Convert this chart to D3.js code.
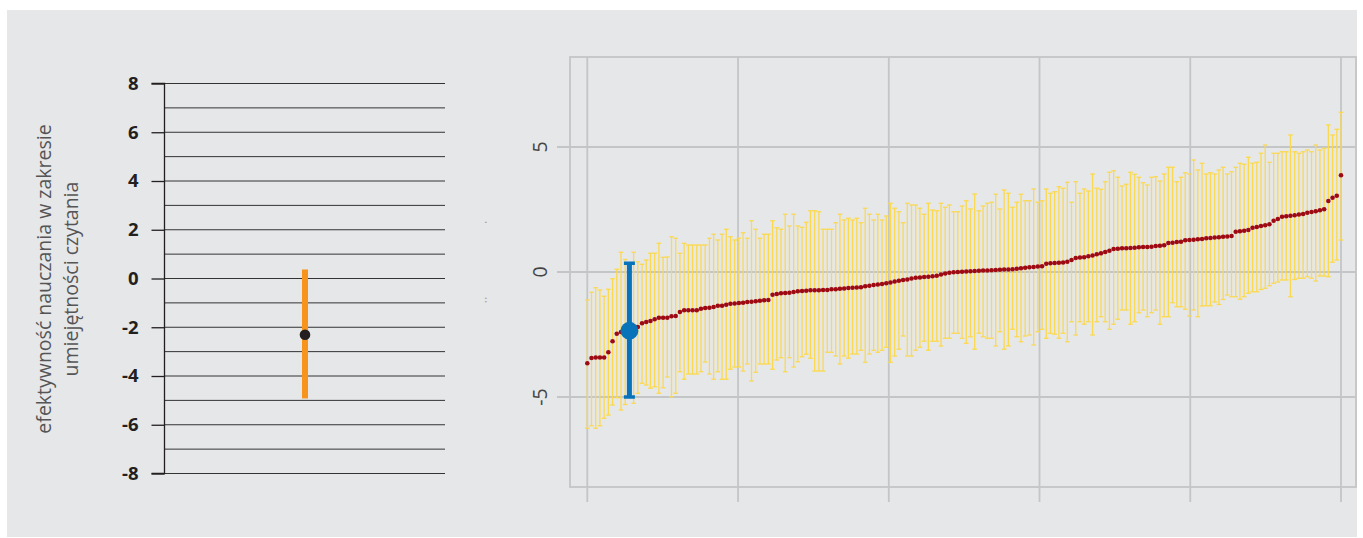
<!DOCTYPE html>
<html><head><meta charset="utf-8">
<script src="https://cdnjs.cloudflare.com/ajax/libs/d3/7.8.5/d3.min.js"></script>
<style>body{margin:0;background:#fff} svg{display:block}</style>
</head><body><svg id="c" width="1363" height="538"></svg>
<script>
// ---------- DATA ----------
// left panel: single school estimate
const schoolCategory = ["szkoła"];
const schoolMean = [-2.31];
const schoolLow = [-4.92];
const schoolHigh = [0.37];
const leftTickValues = [8, 6, 4, 2, 0, -2, -4, -6, -8];
const leftGridValues = [8, 7, 6, 5, 4, 3, 2, 1, 0, -1, -2, -3, -4, -5, -6, -7, -8];
const leftTitle = ["efektywność nauczania w zakresie", "umiejętności czytania"];

// right panel: all schools, sorted
const schoolMeans = [
-3.65,-3.44,-3.42,-3.42,-3.42,-3.21,-2.77,-2.47,-2.40,-2.37,
-2.35,-2.28,-2.20,-2.05,-2.00,-1.96,-1.89,-1.83,-1.83,-1.83,
-1.77,-1.76,-1.60,-1.53,-1.53,-1.53,-1.53,-1.47,-1.44,-1.43,
-1.40,-1.35,-1.35,-1.31,-1.27,-1.26,-1.24,-1.23,-1.20,-1.19,
-1.17,-1.15,-1.13,-1.12,-0.91,-0.88,-0.85,-0.84,-0.83,-0.80,
-0.77,-0.76,-0.75,-0.73,-0.73,-0.73,-0.72,-0.72,-0.69,-0.69,
-0.67,-0.66,-0.64,-0.63,-0.62,-0.61,-0.57,-0.55,-0.52,-0.50,
-0.48,-0.45,-0.42,-0.38,-0.35,-0.32,-0.30,-0.26,-0.23,-0.22,
-0.20,-0.19,-0.17,-0.15,-0.10,-0.06,-0.03,-0.01,0.00,0.01,
0.02,0.03,0.04,0.05,0.06,0.06,0.07,0.08,0.09,0.10,
0.10,0.11,0.13,0.15,0.17,0.19,0.20,0.22,0.23,0.33,
0.35,0.36,0.37,0.38,0.41,0.48,0.56,0.58,0.59,0.63,
0.66,0.71,0.75,0.80,0.85,0.92,0.93,0.95,0.95,0.96,
0.97,0.99,1.00,1.00,1.01,1.04,1.05,1.07,1.16,1.17,
1.20,1.21,1.27,1.28,1.29,1.31,1.32,1.35,1.36,1.38,
1.39,1.41,1.42,1.44,1.61,1.63,1.65,1.68,1.77,1.80,
1.84,1.87,1.91,2.05,2.12,2.21,2.23,2.25,2.27,2.30,
2.32,2.37,2.40,2.43,2.47,2.51,2.84,2.97,3.05,3.87];
const schoolHighs = [
-1.12,-0.81,-0.63,-0.72,-0.97,-0.69,-0.27,0.11,0.79,0.50,
0.35,0.79,0.41,0.31,0.48,0.75,0.75,1.15,0.59,0.60,
1.41,1.35,0.75,1.15,1.08,1.08,1.08,1.08,1.08,1.35,
1.51,1.28,1.51,1.71,1.41,1.28,1.35,1.57,1.35,2.05,
1.71,1.35,1.51,1.51,2.05,1.77,1.71,2.31,1.84,2.31,
1.84,1.79,1.99,2.45,2.45,2.41,1.71,1.71,1.71,1.97,
2.31,2.08,2.15,2.08,2.15,1.97,2.55,2.31,2.08,2.31,
2.08,2.24,2.75,2.55,2.41,1.97,2.75,2.68,2.68,2.55,
2.31,2.75,2.48,2.45,2.75,2.59,2.68,2.41,2.41,2.64,
2.85,2.52,3.12,2.45,2.64,2.75,2.79,3.11,2.52,3.28,
3.15,2.59,2.79,3.11,2.85,2.85,3.32,2.79,2.85,3.32,
3.15,3.21,3.41,3.35,3.59,2.79,3.61,3.15,3.32,3.24,
3.92,3.35,3.31,3.61,3.99,4.05,3.79,3.44,3.51,3.99,
3.91,3.79,3.57,3.48,3.79,3.81,3.64,3.92,4.19,4.19,
3.61,3.79,3.97,3.92,4.48,4.08,4.35,3.92,3.97,3.92,
4.08,4.19,3.92,4.01,4.19,4.35,4.31,4.59,4.35,4.39,
4.75,5.08,4.39,4.75,4.75,4.81,4.81,5.48,4.81,4.75,
4.81,4.88,4.81,5.08,4.88,4.95,5.88,5.48,5.71,6.39];
const schoolLows = [
-6.25,-6.15,-6.25,-6.15,-5.85,-5.72,-5.32,-5.03,-5.52,-5.30,
-5.00,-5.25,-4.85,-4.45,-4.52,-4.65,-4.59,-4.85,-4.63,-4.20,
-4.99,-4.85,-3.99,-4.29,-4.08,-4.08,-4.08,-3.99,-3.60,-4.08,
-4.29,-3.99,-4.29,-4.29,-3.89,-3.80,-3.80,-3.96,-3.68,-4.36,
-4.01,-3.68,-3.68,-3.68,-3.89,-3.52,-3.43,-3.99,-3.43,-3.80,
-3.59,-3.39,-3.29,-3.45,-3.96,-3.96,-3.96,-3.21,-3.21,-3.36,
-3.68,-3.36,-3.45,-3.28,-3.28,-3.13,-3.61,-3.28,-3.13,-3.21,
-3.13,-3.01,-3.61,-3.36,-3.09,-2.56,-3.36,-3.36,-3.13,-3.01,
-2.77,-3.13,-2.77,-2.77,-2.96,-2.65,-2.65,-2.45,-2.45,-2.65,
-2.85,-2.59,-3.09,-2.45,-2.59,-2.65,-2.65,-2.96,-2.39,-3.09,
-2.96,-2.29,-2.59,-2.79,-2.56,-2.52,-2.92,-2.39,-2.29,-2.65,
-2.45,-2.49,-2.65,-2.45,-2.79,-1.99,-2.52,-1.99,-2.09,-1.99,
-2.52,-1.99,-1.79,-1.99,-2.29,-2.09,-1.89,-1.52,-1.52,-2.09,
-1.99,-1.63,-1.52,-1.79,-1.63,-1.52,-2.09,-1.79,-1.79,-1.23,
-1.39,-1.39,-1.49,-1.76,-1.52,-1.79,-1.36,-1.35,-1.35,-1.20,
-1.30,-1.10,-0.92,-0.99,-0.99,-1.09,-0.99,-0.85,-0.79,-0.79,
-0.70,-0.65,-0.55,-0.45,-0.40,-0.32,-0.32,-0.99,-0.30,-0.25,
-0.25,-0.19,-0.25,-0.36,-0.16,-0.16,-0.19,0.39,0.48,1.28];
const highlightIndex = 10;      // the school shown on the left
const rightYTicks = [-5, 0, 5];
const rightXTicks = [0, 0.2, 0.4, 0.6, 0.8, 1];

// ---------- DRAW ----------
const svg = d3.select("#c");
svg.append("rect").attr("x", 7).attr("y", 10).attr("width", 1350).attr("height", 527).attr("fill", "#e6e7e9");
const hyphenFmt = d => String(d);

// ===== LEFT PANEL =====
const yL = d3.scaleLinear().domain([-8, 8]).range([473.5, 83.5]);
const xL = d3.scalePoint().domain(schoolCategory).range([165, 445]).padding(0.5);
const gL = svg.append("g");
gL.selectAll("line.grid").data(leftGridValues).join("line")
  .attr("x1", 165).attr("x2", 445)
  .attr("y1", d => yL(d)).attr("y2", d => yL(d))
  .attr("stroke", "#333").attr("stroke-width", 1);
const axL = d3.axisLeft(yL).tickValues(leftTickValues).tickSize(13).tickPadding(13).tickFormat(hyphenFmt);
const axLg = gL.append("g").attr("transform", "translate(164.5,0)").call(axL);
axLg.select(".domain").attr("stroke", "#231f20").attr("stroke-width", 1.3).attr("d", `M-13,${yL(8)}H0V${yL(-8)}H-13`);
axLg.selectAll(".tick line").attr("stroke", "#231f20").attr("stroke-width", 1.3);
axLg.selectAll(".tick text").attr("font-family", "'Open Sans', sans-serif").attr("font-weight", "bold")
  .attr("font-size", 18.5).attr("fill", "#231f20");
gL.selectAll("rect.ci").data(schoolCategory).join("rect")
  .attr("x", d => xL(d) - 3).attr("width", 6)
  .attr("y", (d, i) => yL(schoolHigh[i])).attr("height", (d, i) => yL(schoolLow[i]) - yL(schoolHigh[i]))
  .attr("fill", "#f7941d");
gL.selectAll("circle.pt").data(schoolCategory).join("circle")
  .attr("cx", d => xL(d)).attr("cy", (d, i) => yL(schoolMean[i])).attr("r", 5.3)
  .attr("fill", "#231f20");
const title = gL.append("text")
  .attr("transform", "translate(51,279) rotate(-90)")
  .attr("text-anchor", "middle")
  .attr("font-family", "'Open Sans', sans-serif").attr("font-size", 19.5).attr("fill", "#555");
title.append("tspan").attr("x", 0).attr("dy", 0).text(leftTitle[0]);
title.append("tspan").attr("x", 0).attr("dy", 27).text(leftTitle[1]);

// ===== RIGHT PANEL =====
const N = schoolMeans.length;
const xR = d3.scaleLinear().domain([0, 1]).range([587.3, 1341]);
const yR = d3.scaleLinear().domain([-8.6, 8.6]).range([487, 57]);
const frame = {x0: 570, x1: 1356, y0: 57, y1: 487};
const gR = svg.append("g");
const gridCol = "#c4c5c7";
gR.selectAll("line.vg").data(rightXTicks).join("line")
  .attr("x1", d => xR(d)).attr("x2", d => xR(d)).attr("y1", frame.y0).attr("y2", frame.y1 + 15)
  .attr("stroke", gridCol).attr("stroke-width", 1.8);
gR.selectAll("line.hg").data(rightYTicks).join("line")
  .attr("x1", frame.x0 - 13).attr("x2", frame.x1).attr("y1", d => yR(d)).attr("y2", d => yR(d))
  .attr("stroke", gridCol).attr("stroke-width", 1.8);
gR.append("rect").attr("x", frame.x0).attr("y", frame.y0)
  .attr("width", frame.x1 - frame.x0).attr("height", frame.y1 - frame.y0)
  .attr("fill", "none").attr("stroke", gridCol).attr("stroke-width", 1.8);
gR.selectAll("text.yt").data(rightYTicks).join("text")
  .attr("transform", d => `translate(547,${yR(d)}) rotate(-90)`)
  .attr("text-anchor", "middle")
  .attr("font-family", "'Open Sans', sans-serif").attr("font-size", 19.5).attr("fill", "#444")
  .text(hyphenFmt);

const pos = i => xR(i / (N - 1));
const idx = d3.range(N);
const bars = gR.append("g").attr("stroke", "#fbd94f").attr("stroke-width", 1.3);
bars.selectAll("line.v").data(idx).join("line")
  .attr("x1", pos).attr("x2", pos).attr("y1", i => yR(schoolHighs[i])).attr("y2", i => yR(schoolLows[i]));
bars.selectAll("line.t").data(idx).join("line")
  .attr("x1", i => pos(i) - 2.3).attr("x2", i => pos(i) + 2.3).attr("y1", i => yR(schoolHighs[i])).attr("y2", i => yR(schoolHighs[i]));
bars.selectAll("line.b").data(idx).join("line")
  .attr("x1", i => pos(i) - 2.3).attr("x2", i => pos(i) + 2.3).attr("y1", i => yR(schoolLows[i])).attr("y2", i => yR(schoolLows[i]));
gR.append("g").selectAll("circle").data(idx).join("circle")
  .attr("cx", pos).attr("cy", i => yR(schoolMeans[i])).attr("r", 2.3).attr("fill", "#9e0a12");

// highlighted school
const h = highlightIndex, hx = pos(h), blue = "#0873b9";
gR.append("line").attr("x1", hx).attr("x2", hx).attr("y1", yR(schoolHighs[h])).attr("y2", yR(schoolLows[h]))
  .attr("stroke", blue).attr("stroke-width", 5);
[schoolHighs[h], schoolLows[h]].forEach(v => {
  gR.append("line").attr("x1", hx - 5.5).attr("x2", hx + 5.5).attr("y1", yR(v)).attr("y2", yR(v))
    .attr("stroke", blue).attr("stroke-width", 3.5);
});
gR.append("circle").attr("cx", hx).attr("cy", yR(schoolMeans[h])).attr("r", 9).attr("fill", blue);

// faint residual axis title glyphs
gR.append("text").attr("transform", "translate(490,222) rotate(-90)").attr("text-anchor", "middle")
  .attr("font-family", "'Open Sans', sans-serif").attr("font-size", 8).attr("fill", "#555").text("'");
gR.append("text").attr("transform", "translate(490,300) rotate(-90)").attr("text-anchor", "middle")
  .attr("font-family", "'Open Sans', sans-serif").attr("font-size", 8).attr("fill", "#555").text("' '");
</script></body></html>
